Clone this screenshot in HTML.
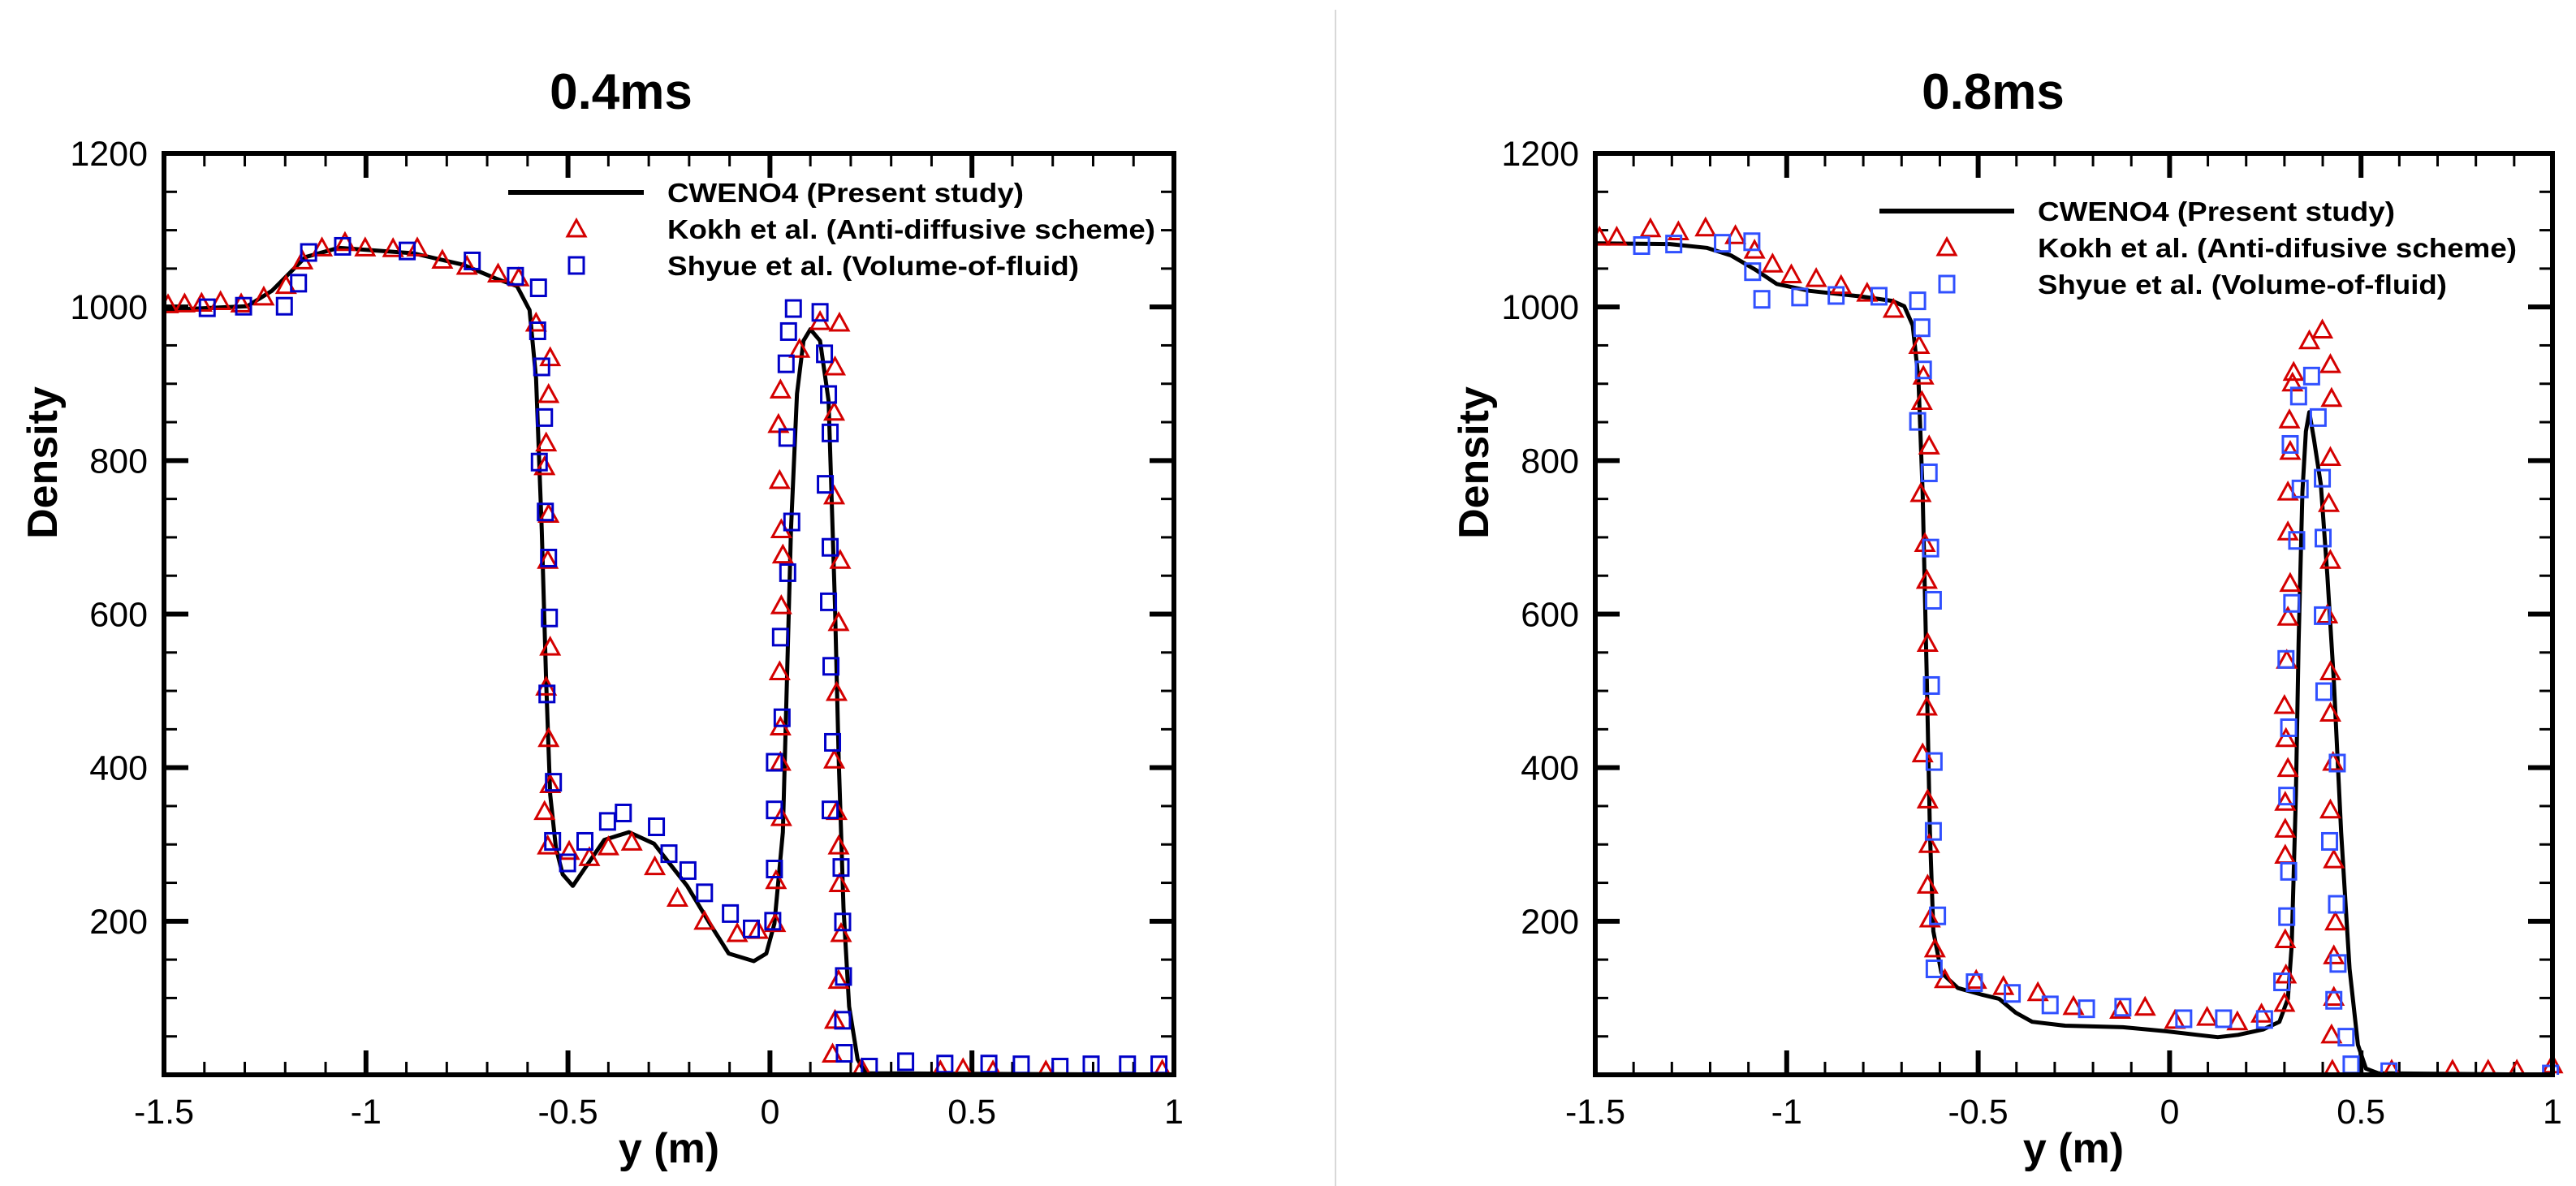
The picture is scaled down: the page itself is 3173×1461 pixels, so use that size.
<!DOCTYPE html>
<html><head><meta charset="utf-8"><style>
html,body{margin:0;padding:0;background:#fff;}
svg{display:block;font-family:"Liberation Sans",Arial,sans-serif;}
</style></head><body>
<svg id="chart" width="3173" height="1461" viewBox="0 0 3173 1461" xmlns="http://www.w3.org/2000/svg">
<rect width="3173" height="1461" fill="#fff"/>
<line x1="1645" y1="12" x2="1645" y2="1461" stroke="#d8d8d8" stroke-width="2"/>
</svg>
<script>
const xTicks=[-1.5,-1,-0.5,0,0.5,1];
const xTickLabels=["-1.5","-1","-0.5","0","0.5","1"];
const yTicks=[200,400,600,800,1000,1200];
const yTickLabels=["200","400","600","800","1000","1200"];

const lineAX=[-1.5,-1.294,-1.233,-1.15,-1.068,-0.883,-0.76,-0.678,-0.626,-0.595,-0.579,-0.565,-0.554,-0.544,-0.53,-0.513,-0.488,-0.462,-0.41,-0.349,-0.287,-0.205,-0.143,-0.102,-0.04,-0.009,0.011,0.032,0.042,0.052,0.067,0.083,0.1,0.124,0.145,0.161,0.17,0.182,0.196,0.217,0.237,1.0];
const lineAY=[996,1001,1021,1065,1077,1070,1055,1037,1027,996,907,710,513,365,296,261,246,266,306,316,301,246,192,158,148,158,197,316,513,710,887,956,971,956,878,611,414,217,89,20,2,0];
const triAX=[-1.49,-1.449,-1.407,-1.36,-1.309,-1.253,-1.198,-1.157,-1.109,-1.052,-1.002,-0.933,-0.873,-0.811,-0.75,-0.673,-0.622,-0.579,-0.544,-0.548,-0.554,-0.558,-0.548,-0.55,-0.544,-0.554,-0.548,-0.544,-0.558,-0.55,-0.497,-0.447,-0.4,-0.342,-0.285,-0.229,-0.162,-0.081,-0.03,0.013,0.015,0.028,0.026,0.026,0.024,0.028,0.032,0.028,0.024,0.021,0.026,0.073,0.124,0.172,0.161,0.159,0.159,0.174,0.17,0.165,0.159,0.165,0.17,0.172,0.176,0.17,0.161,0.155,0.227,0.422,0.478,0.552,0.683,0.971];
const triAY=[1003,1004,1005,1007,1004,1013,1028,1060,1077,1084,1077,1076,1077,1061,1053,1043,1038,979,934,886,823,792,730,670,557,505,438,378,343,298,291,283,297,303,271,230,200,184,188,197,253,335,407,453,525,611,677,710,774,847,892,945,981,979,922,863,754,670,589,498,410,343,298,249,184,123,71,27,8,5,8,5,5,6];
const sqAX=[-1.393,-1.303,-1.202,-1.167,-1.142,-1.058,-0.898,-0.737,-0.63,-0.573,-0.575,-0.565,-0.558,-0.571,-0.556,-0.548,-0.546,-0.552,-0.536,-0.538,-0.501,-0.458,-0.402,-0.363,-0.281,-0.25,-0.203,-0.162,-0.098,-0.046,0.007,0.011,0.011,0.011,0.03,0.026,0.044,0.054,0.042,0.04,0.046,0.058,0.124,0.135,0.145,0.149,0.137,0.149,0.145,0.151,0.155,0.149,0.176,0.18,0.182,0.18,0.184,0.246,0.336,0.433,0.542,0.622,0.718,0.795,0.885,0.963];
const sqAY=[999,1001,1001,1031,1071,1079,1073,1060,1040,1025,969,922,856,798,733,673,595,496,381,304,276,304,330,341,323,288,266,237,210,190,200,268,345,407,465,570,654,720,830,926,968,998,993,939,886,836,769,687,616,532,433,345,270,199,128,71,28,10,17,14,14,13,10,13,13,13];

const lineBX=[-1.5,-1.306,-1.209,-1.145,-1.08,-1.026,-0.94,-0.811,-0.725,-0.693,-0.671,-0.656,-0.645,-0.634,-0.626,-0.617,-0.596,-0.553,-0.488,-0.445,-0.402,-0.359,-0.273,-0.122,-0.014,0.072,0.126,0.179,0.244,0.287,0.309,0.319,0.33,0.337,0.347,0.356,0.365,0.377,0.395,0.412,0.429,0.448,0.47,0.492,0.513,0.545,1.0];
const lineBY=[1083,1082,1077,1067,1048,1030,1021,1014,1008,1001,976,907,759,513,316,187,133,113,104,99,81,69,64,62,57,52,49,52,59,69,99,168,365,562,759,838,863,828,769,651,513,316,138,39,8,2,0];
const triBX=[-1.489,-1.444,-1.356,-1.283,-1.212,-1.134,-1.084,-1.037,-0.988,-0.923,-0.858,-0.79,-0.721,-0.654,-0.643,-0.647,-0.628,-0.65,-0.639,-0.634,-0.632,-0.634,-0.645,-0.632,-0.628,-0.632,-0.626,-0.613,-0.587,-0.505,-0.434,-0.344,-0.251,-0.129,-0.064,0.014,0.098,0.177,0.24,0.3,0.304,0.302,0.302,0.302,0.302,0.309,0.304,0.3,0.306,0.309,0.315,0.309,0.309,0.315,0.313,0.321,0.324,0.365,0.399,0.42,0.423,0.42,0.416,0.42,0.412,0.42,0.42,0.427,0.42,0.429,0.433,0.429,0.429,0.423,0.425,0.58,0.739,0.832,0.907,1.0];
const triBY=[1091,1091,1102,1098,1103,1093,1074,1056,1042,1037,1028,1018,997,950,910,877,819,757,692,644,562,479,418,358,300,247,203,164,124,123,115,107,89,84,88,71,75,69,79,93,130,176,286,320,355,399,438,481,540,596,640,707,759,812,853,901,915,956,970,925,881,804,744,670,599,525,471,407,345,280,199,155,101,52,6,6,6,6,6,13];
const sqBX=[-1.379,-1.295,-1.168,-1.091,-1.089,-1.065,-0.966,-0.871,-0.759,-0.658,-0.647,-0.643,-0.658,-0.628,-0.624,-0.617,-0.622,-0.615,-0.617,-0.606,-0.615,-0.51,-0.411,-0.312,-0.217,-0.122,0.037,0.141,0.248,0.293,0.306,0.311,0.306,0.311,0.304,0.319,0.315,0.337,0.341,0.332,0.371,0.388,0.399,0.401,0.399,0.403,0.418,0.438,0.436,0.44,0.429,0.461,0.474,0.573,0.995];
const sqBY=[1080,1082,1083,1085,1046,1010,1013,1015,1014,1008,973,918,851,784,686,618,507,408,317,207,138,120,106,91,86,88,73,73,72,121,206,265,363,452,541,614,821,884,763,696,910,856,777,699,598,499,304,406,222,145,97,49,13,4,1];

const NS="http://www.w3.org/2000/svg";
const svg=document.getElementById('chart');
function mk(tag,attrs,parent){const e=document.createElementNS(NS,tag);for(const k in attrs)e.setAttribute(k,attrs[k]);(parent||svg).appendChild(e);return e;}

function drawPanel(p){
  const g=mk('g',{});
  
  
  const X0=p.x0,X1=p.x1,Y0=189,Y1=1324;
  const sx=v=>X0+(v+1.5)/2.5*(X1-X0);
  const sy=v=>Y1-v/1200*(Y1-Y0);
  const t=mk('text',{x:p.titleX,y:134,'font-size':62,'font-weight':'bold','text-anchor':'middle'},g);
  t.textContent=p.title;
  
  
  const tg=mk('g',{stroke:'#000','stroke-width':4},g);
  
  
  for(let i=0;i<=25;i++){const v=-1.5+i*0.1;const x=sx(v);const major=(i%5===0);const L=major?30:16;
    mk('line',{x1:x,y1:Y1,x2:x,y2:Y1-L,'stroke-width':major?6:3},tg);
    mk('line',{x1:x,y1:Y0,x2:x,y2:Y0+L,'stroke-width':major?6:3},tg);}
  for(let i=0;i<=24;i++){const v=i*50;const y=sy(v);const major=(i%4===0);const L=major?30:16;
    mk('line',{x1:X0,y1:y,x2:X0+L,y2:y,'stroke-width':major?6:3},tg);
    mk('line',{x1:X1,y1:y,x2:X1-L,y2:y,'stroke-width':major?6:3},tg);}
  xTicks.forEach((v,i)=>{const e=mk('text',{x:sx(v),y:Y1+60,'font-size':43,'text-anchor':'middle'},g);e.textContent=xTickLabels[i];
    
    });
  yTicks.forEach((v,i)=>{const e=mk('text',{x:X0-20,y:sy(v)+15,'font-size':43,'text-anchor':'end'},g);e.textContent=yTickLabels[i];
    
    });
  const xt=mk('text',{x:p.xtx,y:1432,'font-size':52,'font-weight':'bold','text-anchor':'middle'},g);xt.textContent='y (m)';
  
  
  const yt=mk('text',{x:0,y:0,'font-size':52,'font-weight':'bold','text-anchor':'middle',transform:`translate(${p.ytx},570) rotate(-90)`},g);yt.textContent='Density';
  
  
  const cid='clip'+p.name;
  const cp=mk('clipPath',{id:cid},g);mk('rect',{x:X0,y:Y0-15,width:X1-X0+15,height:Y1-Y0+15},cp);
  const dg=mk('g',{'clip-path':`url(#${cid})`},g);
  let d='';p.lx.forEach((v,i)=>{d+=(i?'L':'M')+sx(v).toFixed(1)+','+sy(p.ly[i]).toFixed(1);});
  const ln=mk('path',{d:d,fill:'none',stroke:'#000','stroke-width':5,'stroke-linejoin':'round'},dg);
  
  
  p.tx.forEach((v,i)=>{const x=sx(v),y=sy(p.ty[i]);
    const m=mk('path',{d:`M${x},${y-11}L${x+11},${y+9}L${x-11},${y+9}Z`,fill:'none',stroke:'#d40000','stroke-width':3},dg);
    
    });
  p.qx.forEach((v,i)=>{const x=sx(v),y=sy(p.qy[i]);
    const m=mk('rect',{x:x-9,y:y-10,width:18,height:20,fill:'none',stroke:p.sqColor,'stroke-width':3},dg);
    
    });
  const fr=mk('rect',{x:X0,y:Y0,width:X1-X0,height:Y1-Y0,fill:'none',stroke:'#000','stroke-width':6},g);
  
  
  const lg=mk('g',{},g);
  
  
  const L=p.leg;
  mk('line',{x1:L.lx0,y1:L.y0,x2:L.lx1,y2:L.y0,stroke:'#000','stroke-width':6},lg);
  mk('path',{d:`M${L.mx},${L.y0+45-11}L${L.mx+11},${L.y0+45+9}L${L.mx-11},${L.y0+45+9}Z`,fill:'none',stroke:'#d40000','stroke-width':3},lg);
  mk('rect',{x:L.mx-9,y:L.y0+90-10,width:18,height:20,fill:'none',stroke:p.sqColor,'stroke-width':3},lg);
  L.texts.forEach((s,i)=>{const e=mk('text',{x:L.tx,y:L.y0+12+i*45,'font-size':33,'font-weight':'bold',textLength:L.tw[i],lengthAdjust:'spacingAndGlyphs'},lg);e.textContent=s;
    
    });
}
drawPanel({name:'panel-04ms',title:'0.4ms',titleX:765,xtx:824,x0:202,x1:1446,ytx:70,lx:lineAX,ly:lineAY,tx:triAX,ty:triAY,qx:sqAX,qy:sqAY,sqColor:'#0000c8',
  leg:{lx0:626,lx1:793,y0:237,mx:710,tx:822,texts:['CWENO4 (Present study)','Kokh et al. (Anti-diffusive scheme)','Shyue et al. (Volume-of-fluid)'],tw:[439,601,507]}});
drawPanel({name:'panel-08ms',title:'0.8ms',titleX:2455,xtx:2554,x0:1965,x1:3144,ytx:1833,lx:lineBX,ly:lineBY,tx:triBX,ty:triBY,qx:sqBX,qy:sqBY,sqColor:'#3050ff',
  leg:{lx0:2315,lx1:2481,y0:260,mx:2398,tx:2510,texts:['CWENO4 (Present study)','Kokh et al. (Anti-difusive scheme)','Shyue et al. (Volume-of-fluid)'],tw:[440,590,504]}});
</script>
</body></html>
